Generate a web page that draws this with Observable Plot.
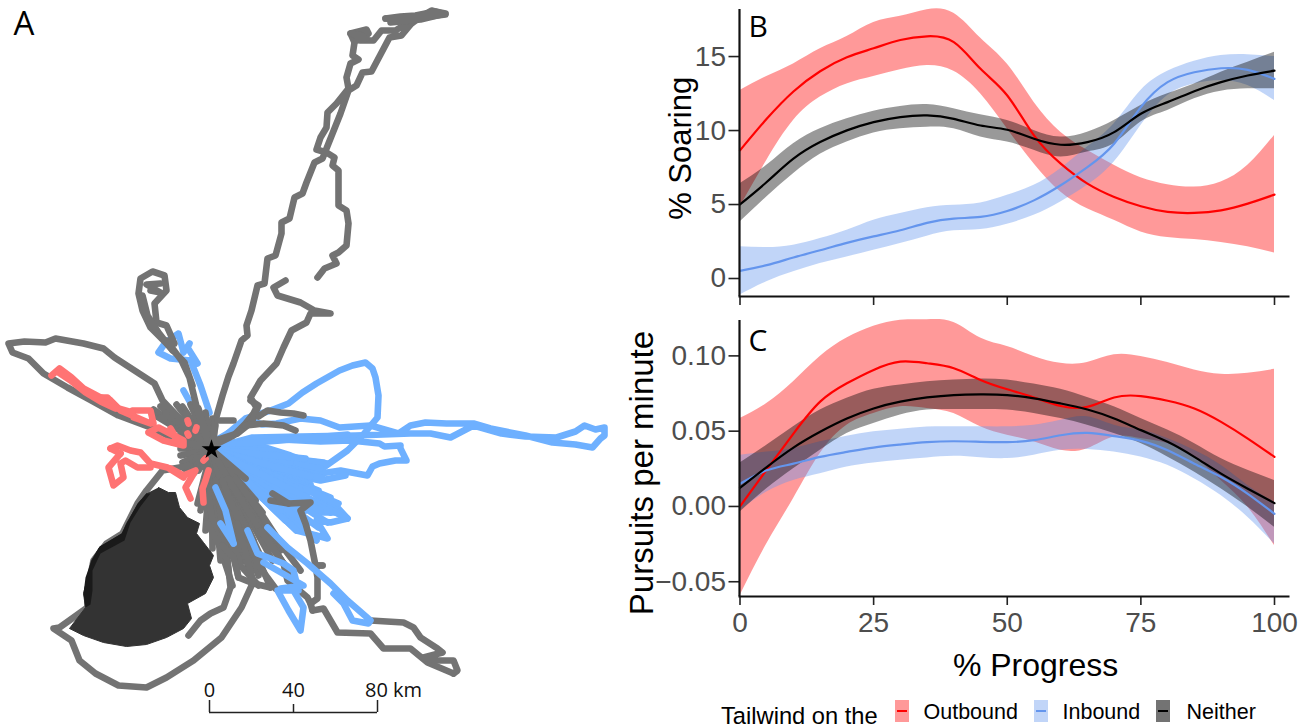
<!DOCTYPE html>
<html><head><meta charset="utf-8">
<script src="https://cdn.jsdelivr.net/npm/d3@7"></script>
<script src="https://cdn.jsdelivr.net/npm/@observablehq/plot@0.6"></script>
<style>
html,body{margin:0;padding:0;background:#fff;width:1301px;height:728px;overflow:hidden}
#root{position:relative;width:1301px;height:728px}
#root>div.p{position:absolute}
#root svg{display:block;background:transparent;overflow:visible}
.leg{position:absolute;font-family:"Liberation Sans",Arial,sans-serif;color:#000;white-space:nowrap;line-height:1}
.sw{position:absolute;width:14px;height:22px;top:700px}
.sw i{position:absolute;left:2px;right:2px;top:10px;height:2px;display:block}
</style></head><body><div id="root"></div>
<script>
// ---------- Panel A: foraging tracks, in map grid units ----------
const colony = [[211,449]];
const island = [[158,487],[168,492],[175,492],[179,507],[187,517],[199,523],[196,533],[203,542],[213,555],[209,565],[213,577],[205,593],[187,603],[191,618],[183,628],[166,637],[146,644],[126,646],[103,642],[83,635],[69,628],[85,607],[83,593],[87,577],[91,560],[99,547],[122,533],[126,523],[138,503],[146,493]];
const islandShade = [[146,493],[137,503],[126,523],[121,533],[99,546],[91,560],[85,577],[83,593],[85,607],[90,604],[92,590],[92,570],[100,553],[124,540],[130,522],[140,506],[150,493]];

const blueFanEnds = [[323,462],[327,463],[320,468],[316,474],[322,478],[310,484],[318,490],[330,497],[338,503],[347,518],[340,514],[330,512],[327,522],[318,527],[306,525],[296,530],[285,520],[275,505],[265,490],[300,470],[290,462],[280,455],[270,450],[255,500],[240,490],[305,458],[295,470],[310,476],[285,480],[300,490],[275,480],[290,500],[305,510],[320,510],[280,510],[312,500]];
const blueTracks = [
 [[215,440],[249,420],[262,424],[276,423],[300,418],[320,420],[339,427],[370,425],[398,433],[410,425],[425,422],[446,423],[473,423],[490,428],[525,435],[552,442],[575,444],[592,447],[600,438],[604,435],[604,427],[595,429],[584,425],[575,431],[556,437],[525,436],[501,433],[473,425],[450,437],[430,433],[410,433],[355,435],[300,436],[252,437],[215,447]],
 [[213,445],[245,418],[270,410],[288,403],[302,392],[316,383],[339,370],[352,365],[365,362],[372,368],[375,377],[378,395],[377,417],[362,435],[347,450],[323,467],[290,455],[252,443],[215,449]],
 [[215,447],[262,438],[320,441],[350,440],[379,443],[384,446],[400,445]],
 [[215,445],[280,440],[347,434]],
 [[215,450],[270,462],[320,473],[340,470],[367,475],[372,466],[379,463],[395,460],[406,460],[400,448]],
 [[215,451],[270,470],[320,480],[345,475]],
 [[215,452],[260,466],[300,478],[315,490],[335,505],[347,518],[330,522],[316,520],[327,538],[316,535],[296,530],[270,505],[245,475]],
 [[216,453],[262,480],[290,490],[312,492],[338,512],[322,512],[300,500],[270,490]],
 [[214,455],[250,485],[290,515],[316,540],[296,522],[265,495]],
 [[197,363],[187,347],[189,343],[183,352],[178,333],[165,342],[158,352],[170,358],[190,360],[200,385],[209,412]],
 [[183,390],[193,408]],
 ...blueFanEnds.map(e=>[colony[0],e])
];
const blueTopTracks = [
 [[220,523],[233,543]],
 [[215,487],[225,510],[233,543]],
 [[247,530],[257,553],[283,563],[293,570],[298,590],[277,590],[288,610],[300,630],[303,607],[293,590],[280,588],[303,585],[263,562]],
 [[267,527],[287,547],[307,563],[330,583],[347,600],[370,620],[368,623],[352,620],[343,603],[333,593]]
];
const hubEnds = [[212,418],[205,412],[198,408],[190,404],[182,406],[176,404],[168,407],[160,406],[153,409],[153,414],[160,417],[170,419],[178,424],[180,430],[178,436],[180,442],[180,448],[180,455],[182,462],[184,468],[188,473],[194,472],[198,470],[203,466],[208,470],[215,425],[165,412],[172,413],[185,412],[195,415],[188,430]];
const southEnds = [[197,503],[200,510],[207,523],[215,535],[222,545],[227,560],[233,557],[238,577],[237,523],[250,570],[245,510],[253,540],[253,583],[260,530],[268,550],[270,587],[250,500],[255,500],[280,550],[283,563],[262,512],[235,490],[245,478],[205,530],[212,548],[220,560],[228,570],[243,560],[258,575],[262,560],[248,535],[272,560],[235,530],[228,510],[240,500]];
const greyTracks = [
 ...hubEnds.map(e=>[colony[0],e]),
 ...southEnds.map(e=>[colony[0],e]),
 [[205,480],[212,520],[222,555],[232,585]],
 [[215,480],[228,525],[240,565],[258,585]],
 [[222,480],[240,525],[258,565],[275,588]],
 [[228,478],[250,515],[275,552],[292,575]],
 [[235,478],[262,515],[285,550],[300,570]],
 [[213,445],[214,423],[222,395],[228,376],[233,363],[241,340],[247,335],[246,325],[251,310],[257,285],[264,283],[267,258],[275,255],[281,233],[281,222],[289,218],[294,197],[302,193],[306,182],[314,162],[322,158],[326,148],[334,128],[340,113],[348,90],[356,85],[362,72],[371,71],[389,37],[401,35],[411,23],[419,17],[431,10],[445,14],[413,18],[385,18],[411,20],[395,30],[381,30],[373,40],[360,40],[368,33],[366,29],[350,33],[354,42],[352,55],[358,59],[350,63],[346,77],[348,88],[336,103],[327,112],[326,127],[320,137],[316,149],[326,152],[334,157],[332,165],[338,170],[338,192],[338,205],[346,210],[348,223],[346,245],[338,252],[332,255],[336,263],[324,268],[317,277]],
 [[385,18],[400,16],[415,15],[435,11],[445,13],[420,19],[390,22]],
 [[350,33],[362,35],[356,40],[366,38]],
 [[285,280],[273,287],[277,295],[300,302],[314,310],[330,313],[310,313],[306,322],[291,330],[283,347],[276,363],[260,380],[250,397],[256,407],[253,413],[245,423],[233,435],[213,445]],
 [[207,440],[197,410],[189,377],[181,360],[166,340],[174,343],[166,325],[156,322],[154,303],[166,290],[164,275],[152,271],[140,278],[138,293],[142,310],[150,327],[166,343],[184,362],[192,385]],
 [[150,290],[160,292],[146,284],[160,283]],
 [[142,295],[147,315],[158,332],[172,350]],
 [[200,440],[162,400],[154,383],[134,370],[114,357],[103,348],[83,343],[55,338],[45,342],[24,341],[8,343],[12,352],[28,358],[43,373],[67,387],[91,400],[118,415],[150,427],[178,440],[205,447]],
 [[215,440],[237,433],[247,425],[252,420],[258,405],[250,400]],
 [[245,425],[263,423],[283,425],[295,430]],
 [[258,416],[267,410],[280,412],[293,413],[303,415]],
 [[217,420],[233,420]],
 [[190,465],[162,470],[146,490],[137,503],[122,533],[106,543],[93,560],[87,590],[87,607],[59,627],[53,628],[71,640],[79,660],[95,673],[118,685],[146,687],[166,677],[193,660],[221,637],[241,607],[252,583]],
 [[207,523],[227,560],[230,587],[223,607],[210,613],[200,620],[188,635]],
 [[222,545],[233,557],[238,577],[253,583],[270,587]],
 [[237,523],[250,570],[253,583]],
 [[260,530],[283,563],[287,580],[307,597],[310,603],[317,598],[317,577],[315,565],[322,565]],
 [[312,610],[323,608],[337,632],[370,633],[383,648],[410,648],[427,662],[453,673]],
 [[310,603],[312,610]],
 [[270,500],[288,503],[310,502],[300,510],[305,523],[310,540],[315,565],[322,565]],
 [[272,493],[288,503]],
 [[370,620],[403,622],[413,627],[420,637],[437,648],[442,652],[423,657],[437,660],[453,660],[457,670],[453,673]]
];
const redTracks = [
 [[100,397],[110,400],[120,410],[150,423],[133,417],[132,410],[150,410],[153,423]],
 [[51,375],[59,368],[71,377],[83,388],[100,397],[107,397],[118,408],[132,412]],
 [[58,372],[70,380],[85,392],[100,401],[115,408]],
 [[148,432],[158,427],[183,440],[183,445],[163,440],[148,432]],
 [[170,428],[176,438],[172,442]],
 [[110,448],[117,445],[130,450],[140,452],[150,463],[167,467],[183,477]],
 [[120,453],[108,467],[113,485],[123,477],[120,463],[125,460],[137,467],[150,467]],
 [[110,448],[120,453]],
 [[170,468],[183,475],[195,470],[185,487],[190,498]],
 [[208,470],[205,480],[202,488],[203,502]],
 [[187,420],[188,423]],[[187,433],[188,435]],[[195,430],[196,427]],[[203,460],[205,458]]
];
const scaleBarKm = [0,40,80];
const scaleBarNames = ["0","40","80 km"];

// ---------- Panels B and C: % progress along the trip ----------
const progress = [0,5,10,15,20,25,30,35,40,45,50,55,60,65,70,75,80,85,90,95,100];

const soarOut   = [8.66,10.79,12.64,14.01,14.95,15.56,16.12,16.37,15.97,14.17,12.37,9.67,7.76,6.41,5.51,4.88,4.50,4.43,4.61,5.06,5.67];
const soarOutHi = [12.7,13.65,14.5,15.52,16.35,17.3,17.72,18.17,17.93,16.26,14.5,11.92,9.89,8.66,7.65,6.81,6.34,6.18,6.52,7.65,9.67];
const soarOutLo = [4.83,7.98,10.68,12.26,13.15,13.65,14.1,14.39,14.0,12.48,10.12,7.76,5.85,4.72,3.94,3.15,2.77,2.63,2.43,2.14,1.73];
const soarIn    = [0.52,0.9,1.42,1.91,2.41,2.85,3.26,3.76,4.05,4.16,4.56,5.28,6.3,7.53,9.11,11.58,13.27,13.94,14.21,14.1,13.49];
const soarInHi  = [2.14,2.09,2.25,2.7,3.26,3.94,4.39,4.79,4.95,5.1,5.62,6.3,7.42,8.88,10.46,12.7,14.0,14.68,15.07,15.13,15.0];
const soarInLo  = [-1.12,-0.22,0.45,1.01,1.46,1.91,2.36,2.86,3.22,3.31,3.67,4.27,5.17,6.3,7.87,10.34,12.37,13.15,13.38,13.04,12.03];
const soarNo    = [5.01,6.52,8.1,9.22,10.01,10.57,10.91,11.02,10.79,10.34,10.05,9.44,9.04,9.22,9.89,11.13,11.92,12.66,13.27,13.72,14.05];
const soarNoHi  = [6.41,7.65,9.11,10.12,10.79,11.31,11.63,11.76,11.47,11.06,10.68,10.01,9.56,9.89,10.68,11.69,12.48,13.15,13.94,14.62,15.29];
const soarNoLo  = [3.82,5.51,7.08,8.39,9.22,9.83,10.12,10.23,10.12,9.56,9.22,8.66,8.21,8.55,9.11,10.57,11.36,12.14,12.66,12.82,12.82];

const purOut   = [0,.0244,.0484,.0696,.0818,.0907,.0962,.0951,.0918,.084,.0778,.0724,.0667,.0662,.0724,.0733,.0702,.0651,.0562,.0451,.0329];
const purOutHi = [.0584,.0684,.0829,.0996,.1118,.1196,.1236,.124,.1222,.1118,.1062,.0996,.0951,.0956,.1007,.0996,.0956,.0907,.0878,.0884,.0911];
const purOutLo = [-.0593,-.0249,.0051,.0351,.054,.0618,.0662,.0651,.0618,.0529,.0473,.0429,.0373,.0384,.0462,.0451,.0418,.0329,.0173,-.0004,-.026];
const purIn    = [.0151,.024,.0284,.0329,.0362,.0391,.0411,.0427,.0433,.0429,.0427,.044,.0473,.0489,.0467,.0436,.0373,.0284,.0196,.0084,-.0049];
const purInHi  = [.034,.0362,.0384,.0429,.0467,.0496,.0513,.0527,.0529,.0529,.0529,.054,.0573,.0596,.054,.0507,.0451,.0373,.0273,.014,.0029];
const purInLo  = [-.0027,.0096,.0173,.0218,.0262,.0289,.0307,.0322,.0333,.0324,.0318,.034,.0373,.0378,.0362,.0329,.0273,.0184,.0073,-.0071,-.0249];
const purNo    = [.0124,.0262,.0391,.0496,.0584,.0651,.0696,.0724,.074,.0744,.074,.0718,.0684,.0644,.0584,.0507,.0429,.0329,.0218,.0118,.0022];
const purNoHi  = [.0289,.0407,.0529,.064,.0718,.0778,.0807,.0829,.084,.0847,.084,.0813,.0778,.0724,.0662,.0584,.0507,.0418,.0318,.024,.0173];
const purNoLo  = [-.0038,.0118,.0251,.0373,.0484,.0551,.0607,.064,.0644,.0644,.064,.0618,.0584,.054,.0484,.0418,.0329,.0229,.0118,-.0004,-.0138];

const windNames = ["Outbound","Inbound","Neither"];
const xTicks = [0,25,50,75,100];
const soarTicks = [0,5,10,15];
const purTicks = [-0.05,0,0.05,0.10];

// ---------- styles ----------
const bandFill = {Outbound:"#ff0000",Inbound:"#6495ed",Neither:"#000000"};
const lineFill = {Outbound:"#ff0000",Inbound:"#6495ed",Neither:"#000000"};
const tickFont = '"Liberation Sans Narrow","Liberation Sans",Arial,sans-serif';
const titleFont = '"Liberation Sans",Arial,sans-serif';
const letterFont = '"Open Sans","Liberation Sans",sans-serif';
const root = document.getElementById("root");
function place(node,left,top){const d=document.createElement("div");d.className="p";d.style.left=left+"px";d.style.top=top+"px";d.appendChild(node);root.appendChild(d);}

// ---------- Panel A ----------
const gx = d=>d[0], gy = d=>d[1];
const lines = (tracks,stroke)=>tracks.map(t=>Plot.line(t,{x:gx,y:gy,stroke,strokeWidth:6.6,strokeLinecap:"round",strokeLinejoin:"round",curve:"linear"}));
const barOrigin = 209, gridPerKm = 2.1;
const barX = scaleBarKm.map(k=>barOrigin+k*gridPerKm);
const barDx = [0,0,16];
const mapPlot = Plot.plot({
  width:620,height:728,margin:0,
  x:{domain:[0,620],axis:null},y:{domain:[0,728],range:[0,728],axis:null},
  marks:[
    ...lines(blueTracks,"#6eb0ff"),
    ...lines(greyTracks,"#737373"),
    ...lines(blueTopTracks,"#6eb0ff"),
    ...lines(redTracks,"#ff7373"),
    Plot.line(island,{x:gx,y:gy,fill:"#333333",stroke:"#333333",strokeWidth:1}),
    Plot.line(islandShade,{x:gx,y:gy,fill:"#1a1a1a",stroke:"none"}),
    Plot.dot(colony,{x:gx,y:gy,symbol:"star",r:6.2,fill:"#000",stroke:"none"}),
    Plot.ruleY([712],{x1:barX[0],x2:barX[2],stroke:"#222",strokeWidth:1.5}),
    Plot.ruleX(barX,{y1:d=>d===barX[1]?704:700,y2:712,stroke:"#222",strokeWidth:1.5}),
    Plot.text(scaleBarNames,{x:(d,i)=>barX[i]+barDx[i],y:()=>690,text:d=>d,fontSize:20,fontFamily:letterFont,fill:"#111"}),
    Plot.text(["A"],{x:[13],y:[24],textAnchor:"start",fontSize:33,fontFamily:letterFont,fill:"#000"})
  ]
});
place(mapPlot,0,0);

// ---------- Panels B, C ----------
function rows(m,h,l,name){return progress.map((p,i)=>({p,m:m[i],h:h[i],l:l[i],name}));}
function panel(o){
  const marks=[];
  const sets=o.sets;
  for(const s of sets) marks.push(Plot.areaY(s,{x:"p",y1:"l",y2:"h",curve:"natural",fill:bandFill[s[0].name],fillOpacity:0.4}));
  for(const s of sets) marks.push(Plot.line(s,{x:"p",y:"m",curve:"natural",stroke:lineFill[s[0].name],strokeWidth:2.2}));
  marks.push(Plot.axisY({ticks:o.yTicks,tickSize:11,tickPadding:3,fontSize:o.yFont,fontFamily:tickFont,fill:"#4d4d4d",stroke:"#222",strokeWidth:1.6,label:null,tickFormat:o.yFormat}));
  marks.push(Plot.axisX({ticks:xTicks,tickSize:9,tickPadding:7,fontSize:o.yFont,fontFamily:tickFont,fill:"#4d4d4d",stroke:"#222",strokeWidth:1.6,label:null,tickFormat:o.xFormat}));
  marks.push(Plot.ruleX([0],{y1:o.dom[0],y2:o.dom[1],stroke:"#111",strokeWidth:2.2,dx:-0.5}));
  marks.push(Plot.ruleY([o.dom[0]],{x1:-0.2,x2:102.9,stroke:"#111",strokeWidth:2.2}));
  marks.push(Plot.text([o.letter],{x:[1.6],y:[o.letterY],textAnchor:"start",fontSize:30,fontFamily:letterFont,fill:"#000"}));
  marks.push(Plot.text([o.label],{x:[o.labelX],y:[o.labelY],rotate:-90,fontSize:o.labelFont,fontFamily:titleFont,fill:"#000"}));
  if(o.extra) marks.push(...o.extra);
  return Plot.plot({width:681,height:o.h,marginLeft:119.5,marginRight:27,marginTop:o.mt,marginBottom:o.mb,
    x:{domain:[0,100],axis:null},y:{domain:o.dom,axis:null},marks});
}
const panelB = panel({
  sets:[rows(soarOut,soarOutHi,soarOutLo,"Outbound"),rows(soarIn,soarInHi,soarInLo,"Inbound"),rows(soarNo,soarNoHi,soarNoLo,"Neither")],
  yTicks:soarTicks,yFont:28,dom:[-1.216,18.18],h:320,mt:9,mb:24,letter:"B",letterY:17,label:"% Soaring",labelX:-11,labelY:8.8,labelFont:31,
  xFormat:()=>"",yFormat:d3.format("d")
});
place(panelB,620,0);
const panelC = panel({
  sets:[rows(purOut,purOutHi,purOutLo,"Outbound"),rows(purIn,purInHi,purInLo,"Inbound"),rows(purNo,purNoHi,purNoLo,"Neither")],
  yTicks:purTicks,yFont:28,dom:[-0.0598,0.1235],h:418,mt:10,mb:132,letter:"C",letterY:0.1095,label:"Pursuits per minute",labelX:-18.2,labelY:0.0222,labelFont:33,
  xFormat:d3.format("d"),yFormat:d3.format(".2f"),
  extra:[Plot.text(["% Progress"],{x:[55.3],y:[-0.1055],fontSize:32,fontFamily:tickFont,fill:"#000"})]
});
place(panelC,620,310);

// ---------- legend ----------
function legText(t,left,top,size){const e=document.createElement("div");e.className="leg";e.textContent=t;e.style.left=left+"px";e.style.top=top+"px";e.style.fontSize=size+"px";root.appendChild(e);}
legText("Tailwind on the",721,705,23.7);
const swX=[895,1034,1156], labX=[923.5,1062.5,1186.5];
const swBg={Outbound:"rgba(255,0,0,.4)",Inbound:"rgba(100,149,237,.4)",Neither:"rgba(0,0,0,.55)"};
windNames.forEach((n,i)=>{
  const s=document.createElement("div");s.className="sw";s.style.left=swX[i]+"px";s.style.background=swBg[n];
  const l=document.createElement("i");l.style.background=lineFill[n];s.appendChild(l);root.appendChild(s);
  legText(n,labX[i],702,21.5);
});
</script></body></html>
